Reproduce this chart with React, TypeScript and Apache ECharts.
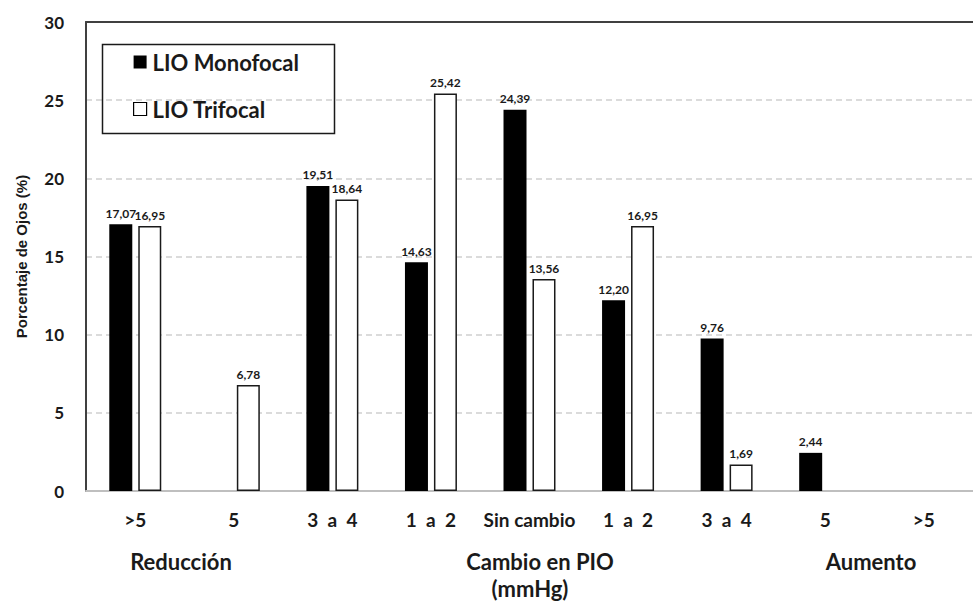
import React, { useEffect, useRef } from "react";
import * as echarts from "echarts";

const categories = [">5", "5", "3  a  4", "1  a  2", "Sin cambio", "1  a  2", "3  a  4", "5", ">5"];
const monofocal: (number | null)[] = [17.07, null, 19.51, 14.63, 24.39, 12.2, 9.76, 2.44, null];
const trifocal: (number | null)[] = [16.95, 6.78, 18.64, 25.42, 13.56, 16.95, 1.69, null, null];
const seriesNames = ["LIO Monofocal", "LIO Trifocal"];
const groupLabels = ["Reducción", "Cambio en PIO", "(mmHg)", "Aumento"];

const FONT = "Lato, 'Liberation Sans', sans-serif";
const ARIAL = "'Liberation Sans', Arial, sans-serif";
const TEXT = "#1a1a1a";

const fmt = (v: number) => v.toFixed(2).replace(".", ",");

export default function App() {
  const ref = useRef<HTMLDivElement>(null);

  useEffect(() => {
    if (!ref.current) return;
    const chart = echarts.init(ref.current, undefined, { renderer: "svg" });

    const valueLabel = {
      show: true,
      position: "top" as const,
      distance: 5,
      fontFamily: FONT,
      fontWeight: "bold" as const,
      fontSize: 12,
      color: TEXT,
      formatter: (p: any) => (p.value == null ? "" : fmt(p.value)),
    };

    const groupText = (text: string, x: number, y: number) => ({
      type: "text",
      x,
      y,
      style: { text, align: "center", verticalAlign: "middle", font: `bold 22px ${FONT}`, fill: TEXT },
    });

    chart.setOption({
      animation: false,
      backgroundColor: "#ffffff",
      textStyle: { fontFamily: FONT },
      grid: { left: 86, top: 22, right: -9, bottom: 110, containLabel: false },
      legend: {
        orient: "vertical",
        left: 128,
        top: 46,
        itemWidth: 13,
        itemHeight: 13,
        itemGap: 25,
        icon: "rect",
        textStyle: {
          fontFamily: FONT,
          fontWeight: "bold",
          fontSize: 22,
          color: TEXT,
          padding: [0, 0, 0, 1],
        },
        data: [
          { name: seriesNames[0], itemStyle: { color: "#000000", borderWidth: 0 } },
          { name: seriesNames[1], itemStyle: { color: "#ffffff", borderColor: "#000000", borderWidth: 1.2 } },
        ],
      },
      xAxis: [
        {
          type: "category",
          data: categories,
          axisLine: { show: true, lineStyle: { color: "#bfbfbf", width: 2 } },
          axisTick: { show: false },
          axisLabel: {
            interval: 0,
            margin: 19,
            fontFamily: FONT,
            fontWeight: "bold",
            fontSize: 19,
            color: TEXT,
          },
        },
        {
          type: "category",
          position: "top",
          data: categories,
          axisLine: { show: true, lineStyle: { color: "#404040", width: 2 } },
          axisTick: { show: false },
          axisLabel: { show: false },
        },
      ],
      yAxis: {
        type: "value",
        min: 0,
        max: 30,
        interval: 5,
        name: "Porcentaje de Ojos (%)",
        nameLocation: "middle",
        nameGap: 57,
        nameTextStyle: { fontFamily: ARIAL, fontWeight: "bold", fontSize: 15, color: TEXT },
        axisLine: { show: true, lineStyle: { color: "#404040", width: 2 } },
        axisTick: { show: false },
        axisLabel: {
          margin: 22,
          fontFamily: FONT,
          fontWeight: "bold",
          fontSize: 17,
          color: TEXT,
        },
        splitLine: { show: true, lineStyle: { color: "#d0d0d0", type: [6, 4], width: 1.5 } },
      },
      series: [
        {
          name: seriesNames[0],
          type: "bar",
          data: monofocal,
          barWidth: 23,
          barGap: "26%",
          itemStyle: { color: "#000000" },
          label: valueLabel,
        },
        {
          name: seriesNames[1],
          type: "bar",
          data: trifocal,
          barWidth: 23,
          itemStyle: { color: "#ffffff", borderColor: "#1a1a1a", borderWidth: 1.5 },
          label: valueLabel,
        },
      ],
      graphic: [
        {
          type: "rect",
          left: 100,
          top: 42,
          shape: { width: 232, height: 89 },
          style: { fill: "none", stroke: "#1a1a1a", lineWidth: 1.5 },
          z: 10,
        },
        groupText(groupLabels[0], 181, 561),
        groupText(groupLabels[1], 540, 561),
        groupText(groupLabels[2], 530, 588),
        groupText(groupLabels[3], 871, 561),
      ],
    });

    return () => chart.dispose();
  }, []);

  return (
    <div
      ref={ref}
      style={{ position: "fixed", left: 0, top: 0, width: 973, height: 601, background: "#fff" }}
    />
  );
}
